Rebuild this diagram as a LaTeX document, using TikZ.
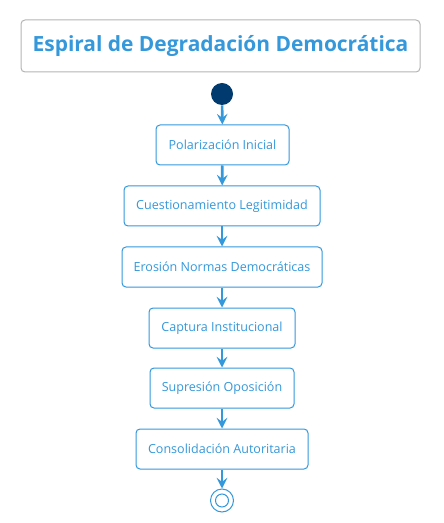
\documentclass[tikz,border=0pt]{standalone}
\usepackage{fontspec}
\setmainfont{Open Sans}
\usetikzlibrary{arrows.meta}
\definecolor{ublue}{RGB}{52,152,219}
\definecolor{navy}{RGB}{0,58,110}
\definecolor{tgray}{RGB}{180,180,180}
\begin{document}
\begin{tikzpicture}[x=0.75pt,y=-0.75pt,
  stepbox/.style={draw=ublue,line width=0.75pt,rounded corners=3pt,fill=white,text=ublue,font=\fontsize{9.4}{11}\selectfont,inner sep=0pt},
  flow/.style={draw=ublue,line width=2pt,-{Stealth[length=8pt,width=8pt,inset=3pt]},shorten >=0pt},
  titlebox/.style={draw=tgray,line width=0.75pt,rounded corners=3pt,text=ublue,font=\fontsize{15.7}{18}\selectfont\bfseries,inner sep=0pt}]
\useasboundingbox (0,0) rectangle (443,523);
\node[titlebox,minimum width=399*0.75pt,minimum height=52*0.75pt] (title) at (220.5,46) {Espiral de Degradación Democrática};
\node[circle,fill=navy,minimum size=22*0.75pt,inner sep=0pt] (start) at (222,94) {};
\node[stepbox,minimum width=133*0.75pt,minimum height=40*0.75pt] (s1) at (222.5,145) {Polarización Inicial};
\node[stepbox,minimum width=196*0.75pt,minimum height=40*0.75pt] (s2) at (222,206) {Cuestionamiento Legitimidad};
\node[stepbox,minimum width=200*0.75pt,minimum height=40*0.75pt] (s3) at (222,267) {Erosión Normas Democráticas};
\node[stepbox,minimum width=146*0.75pt,minimum height=40*0.75pt] (s4) at (222,328) {Captura Institucional};
\node[stepbox,minimum width=144*0.75pt,minimum height=40*0.75pt] (s5) at (222,388) {Supresión Oposición};
\node[stepbox,minimum width=172*0.75pt,minimum height=40*0.75pt] (s6) at (222,449) {Consolidación Autoritaria};
\node[circle,draw=ublue,line width=0.75pt,minimum size=23*0.75pt,inner sep=0pt] (end) at (222,500.5) {};
\node[circle,draw=ublue,line width=0.75pt,minimum size=13*0.75pt,inner sep=0pt] (endin) at (222,500.5) {};
\draw[flow] (start) -- (s1);
\draw[flow] (s1) -- (s2);
\draw[flow] (s2) -- (s3);
\draw[flow] (s3) -- (s4);
\draw[flow] (s4) -- (s5);
\draw[flow] (s5) -- (s6);
\draw[flow] (s6) -- (end);
\end{tikzpicture}
\end{document}
